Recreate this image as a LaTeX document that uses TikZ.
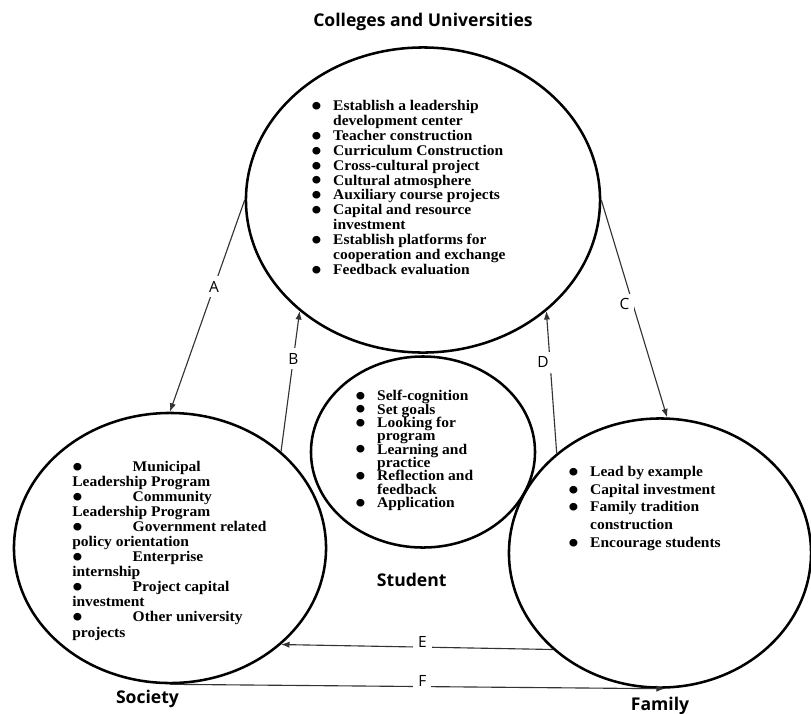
\documentclass[tikz,border=0pt]{standalone}
\usepackage{fontspec}
\setmainfont{Liberation Serif}
\newfontfamily\labelfont{Open Sans}
\newfontfamily\listfont[FakeStretch=1.05]{Liberation Serif}
\usepackage{tikz}
\usetikzlibrary{shapes.geometric,arrows.meta,positioning}

\newcommand{\dotmark}{\raisebox{-0.33em}{\scalebox{1.9}{\textbullet}}}
\newcommand{\itm}{\makebox[15.6pt][l]{\dotmark}}
\newcommand{\wideitm}{\makebox[43pt][l]{\dotmark}}
\newcommand{\cnt}{\hspace*{15.6pt}}
\newcommand{\tightlines}{\lineskiplimit=-6pt\relax}

\begin{document}
\begin{tikzpicture}[
    x=0.025cm, y=-0.025cm,
    circ/.style={ellipse, draw, line width=1.8pt, inner sep=0pt},
    items/.style={anchor=north west, align=left, inner sep=0pt, font={\listfont\bfseries\fontsize{10.5}{#1}\selectfont\tightlines}},
    title/.style={inner sep=0pt, font=\labelfont\bfseries\fontsize{12.5}{14}\selectfont},
    tag/.style={fill=white, inner sep=3.5pt, font=\labelfont\fontsize{11}{13}\selectfont},
    arrow/.style={-{Latex[length=6pt,width=4.5pt]}, line width=0.8pt, draw=black!80}
]
\useasboundingbox (0,0) rectangle (811,713);

% Circles
\node[circ, minimum width=8.85cm, minimum height=7.625cm] (college) at (423,200) {};
\node[circ, minimum width=7.8cm, minimum height=6.75cm] (society) at (170,548) {};
\node[circ, minimum width=7.55cm, minimum height=6.725cm] (family) at (660,553) {};
\node[circ, minimum width=5.6cm, minimum height=4.775cm] (student) at (423,452) {};

% Titles
\node[title, above=11pt of college] (collegetitle) {Colleges and Universities};
\node[title, below=17pt of student, xshift=-8pt] (studenttitle) {Student};
\node[title, below=4pt of society, xshift=-16pt] (societytitle) {Society};
\node[title, below=6pt of family] (familytitle) {Family};

% Lists
\node[items=10.6pt] (collegelist) at (311,100) {%
\itm Establish a leadership\\ \cnt development center\\
\itm Teacher construction\\
\itm Curriculum Construction\\
\itm Cross-cultural project\\
\itm Cultural atmosphere\\
\itm Auxiliary course projects\\
\itm Capital and resource\\ \cnt investment\\
\itm Establish platforms for\\ \cnt cooperation and exchange\\
\itm Feedback evaluation};
\node[items=9.5pt] (studentlist) at (355,390) {%
\itm Self-cognition\\
\itm Set goals\\
\itm Looking for\\ \cnt program\\
\itm Learning and\\ \cnt practice\\
\itm Reflection and\\ \cnt feedback\\
\itm Application};
\node[items=10.7pt] (societylist) at (72,461) {%
\wideitm Municipal\\ Leadership Program\\
\wideitm Community\\ Leadership Program\\
\wideitm Government related\\ policy orientation\\
\wideitm Enterprise\\ internship\\
\wideitm Project capital\\ investment\\
\wideitm Other university\\ projects};
\node[items=12.6pt] (familylist) at (568,466) {%
\itm Lead by example\\
\itm Capital investment\\
\itm Family tradition\\ \cnt construction\\
\itm Encourage students};

% Arrows
\draw[arrow] (college.west) -- node[tag, pos=0.41] {A} (society.north);
\draw[arrow] (society.41) -- node[tag, pos=0.66] {B} (college.222);
\draw[arrow] (college.east) -- node[tag, pos=0.48, xshift=-6pt] {C} (family.87);
\draw[arrow] (family.136) -- node[tag, pos=0.64, xshift=-5pt] {D} (college.318);
\draw[arrow] (family.222) -- node[tag, pos=0.48, yshift=4pt] {E} (society.319);
\draw[arrow] (society.south) -- node[tag, pos=0.51, yshift=4pt] {F} (family.272);

\end{tikzpicture}
\end{document}
